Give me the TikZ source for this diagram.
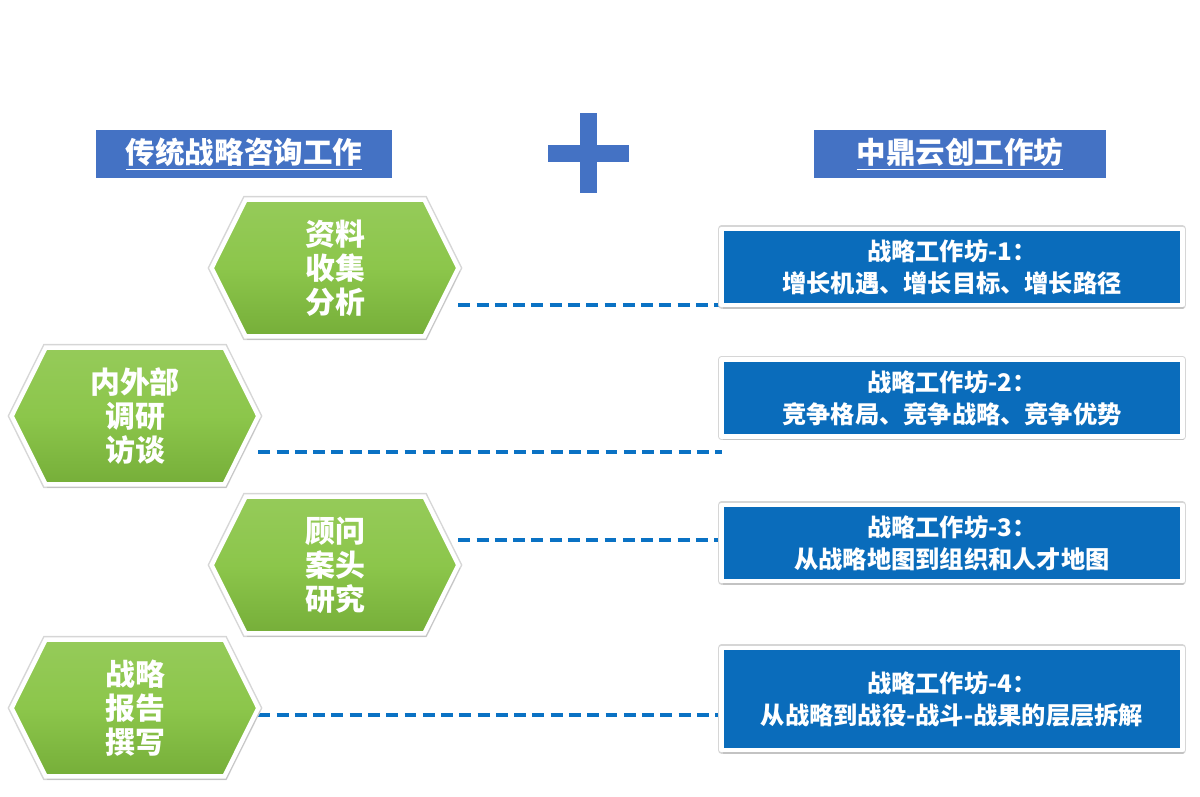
\documentclass[tikz,border=0pt]{standalone}
\usepackage{fontspec}
\setmainfont{Noto Sans CJK SC}
\usetikzlibrary{shadows,backgrounds,calc}

\definecolor{headblue}{HTML}{4472C4}
\definecolor{boxblue}{HTML}{0A6CBB}
\definecolor{leafgreen}{HTML}{8CC64B}
\definecolor{leafdark}{HTML}{72AA36}
\definecolor{linkblue}{HTML}{0A72C4}

\tikzset{
  headbox/.style={fill=headblue, text=white, font=\bfseries\fontsize{16.8}{20}\selectfont,
    minimum height=0.96cm, inner sep=0pt},
  hexlabel/.style={text=white, font=\bfseries\fontsize{17}{19.4}\selectfont, align=center,
    minimum width=4.92cm, minimum height=2.72cm, inner sep=0pt},
  halo/.style={preaction={draw=black!16, line width=4.2pt},
    drop shadow={opacity=0.22, shadow xshift=1pt, shadow yshift=-2pt}},
  hexfill/.style={halo, top color=leafgreen!92!white, bottom color=leafdark!85!leafgreen,
    middle color=leafgreen, draw=white, line width=2.5pt},
  wsbox/.style={halo, fill=boxblue, draw=white, line width=2.5pt, text=white,
    font=\bfseries\fontsize{13.8}{18.2}\selectfont, align=center,
    minimum width=9.22cm, inner sep=0pt},
  dashlink/.style={draw=linkblue, line width=2.3pt, dash pattern=on 6.8pt off 3.6pt}
}

\begin{document}
\begin{tikzpicture}[x=0.02cm,y=-0.02cm,line join=round]
\useasboundingbox (0,0) rectangle (1200,796);

% headings and plus
\node[headbox,minimum width=5.92cm] (trad) at (244,154) {\underline{传统战略咨询工作}};
\node[headbox,minimum width=5.84cm] (zdyc) at (960,154) {\underline{中鼎云创工作坊}};
\fill[headblue] (548,145) rectangle (629,162);
\fill[headblue] (580,113) rectangle (597,193);

% traditional steps
\node[hexlabel] (hexA) at (335,268) {资料\\收集\\分析};
\node[hexlabel] (hexB) at (135,416) {内外部\\调研\\访谈};
\node[hexlabel] (hexC) at (335,565) {顾问\\案头\\研究};
\node[hexlabel] (hexD) at (135,708) {战略\\报告\\撰写};

% workshops
\node[wsbox,minimum height=1.52cm] (boxA) at (952,267) {战略工作坊-1：\\增长机遇、增长目标、增长路径};
\node[wsbox,minimum height=1.54cm] (boxB) at (952,398) {战略工作坊-2：\\竞争格局、竞争战略、竞争优势};
\node[wsbox,minimum height=1.52cm] (boxC) at (952,543) {战略工作坊-3：\\从战略地图到组织和人才地图};
\node[wsbox,minimum height=2.04cm] (boxD) at (952,699) {战略工作坊-4：\\从战略到战役-战斗-战果的层层拆解};

\coordinate (eA) at (722,305);
\coordinate (eB) at (722,452);
\coordinate (eC) at (722,540);
\coordinate (eD) at (722,715);

\begin{scope}[on background layer]
  \draw[dashlink] (hexA.east |- eA) -- (eA);
  \draw[dashlink] (hexB.east |- eB) -- (eB);
  \draw[dashlink] (hexC.east |- eC) -- (eC);
  \draw[dashlink] (hexD.east |- eD) -- (eD);
  \foreach \h in {hexA,hexB,hexC,hexD}
    \path[hexfill] (\h.west) -- ([xshift=0.68cm]\h.north west) -- ([xshift=-0.68cm]\h.north east)
      -- (\h.east) -- ([xshift=-0.68cm]\h.south east) -- ([xshift=0.68cm]\h.south west) -- cycle;
\end{scope}
\end{tikzpicture}
\end{document}
